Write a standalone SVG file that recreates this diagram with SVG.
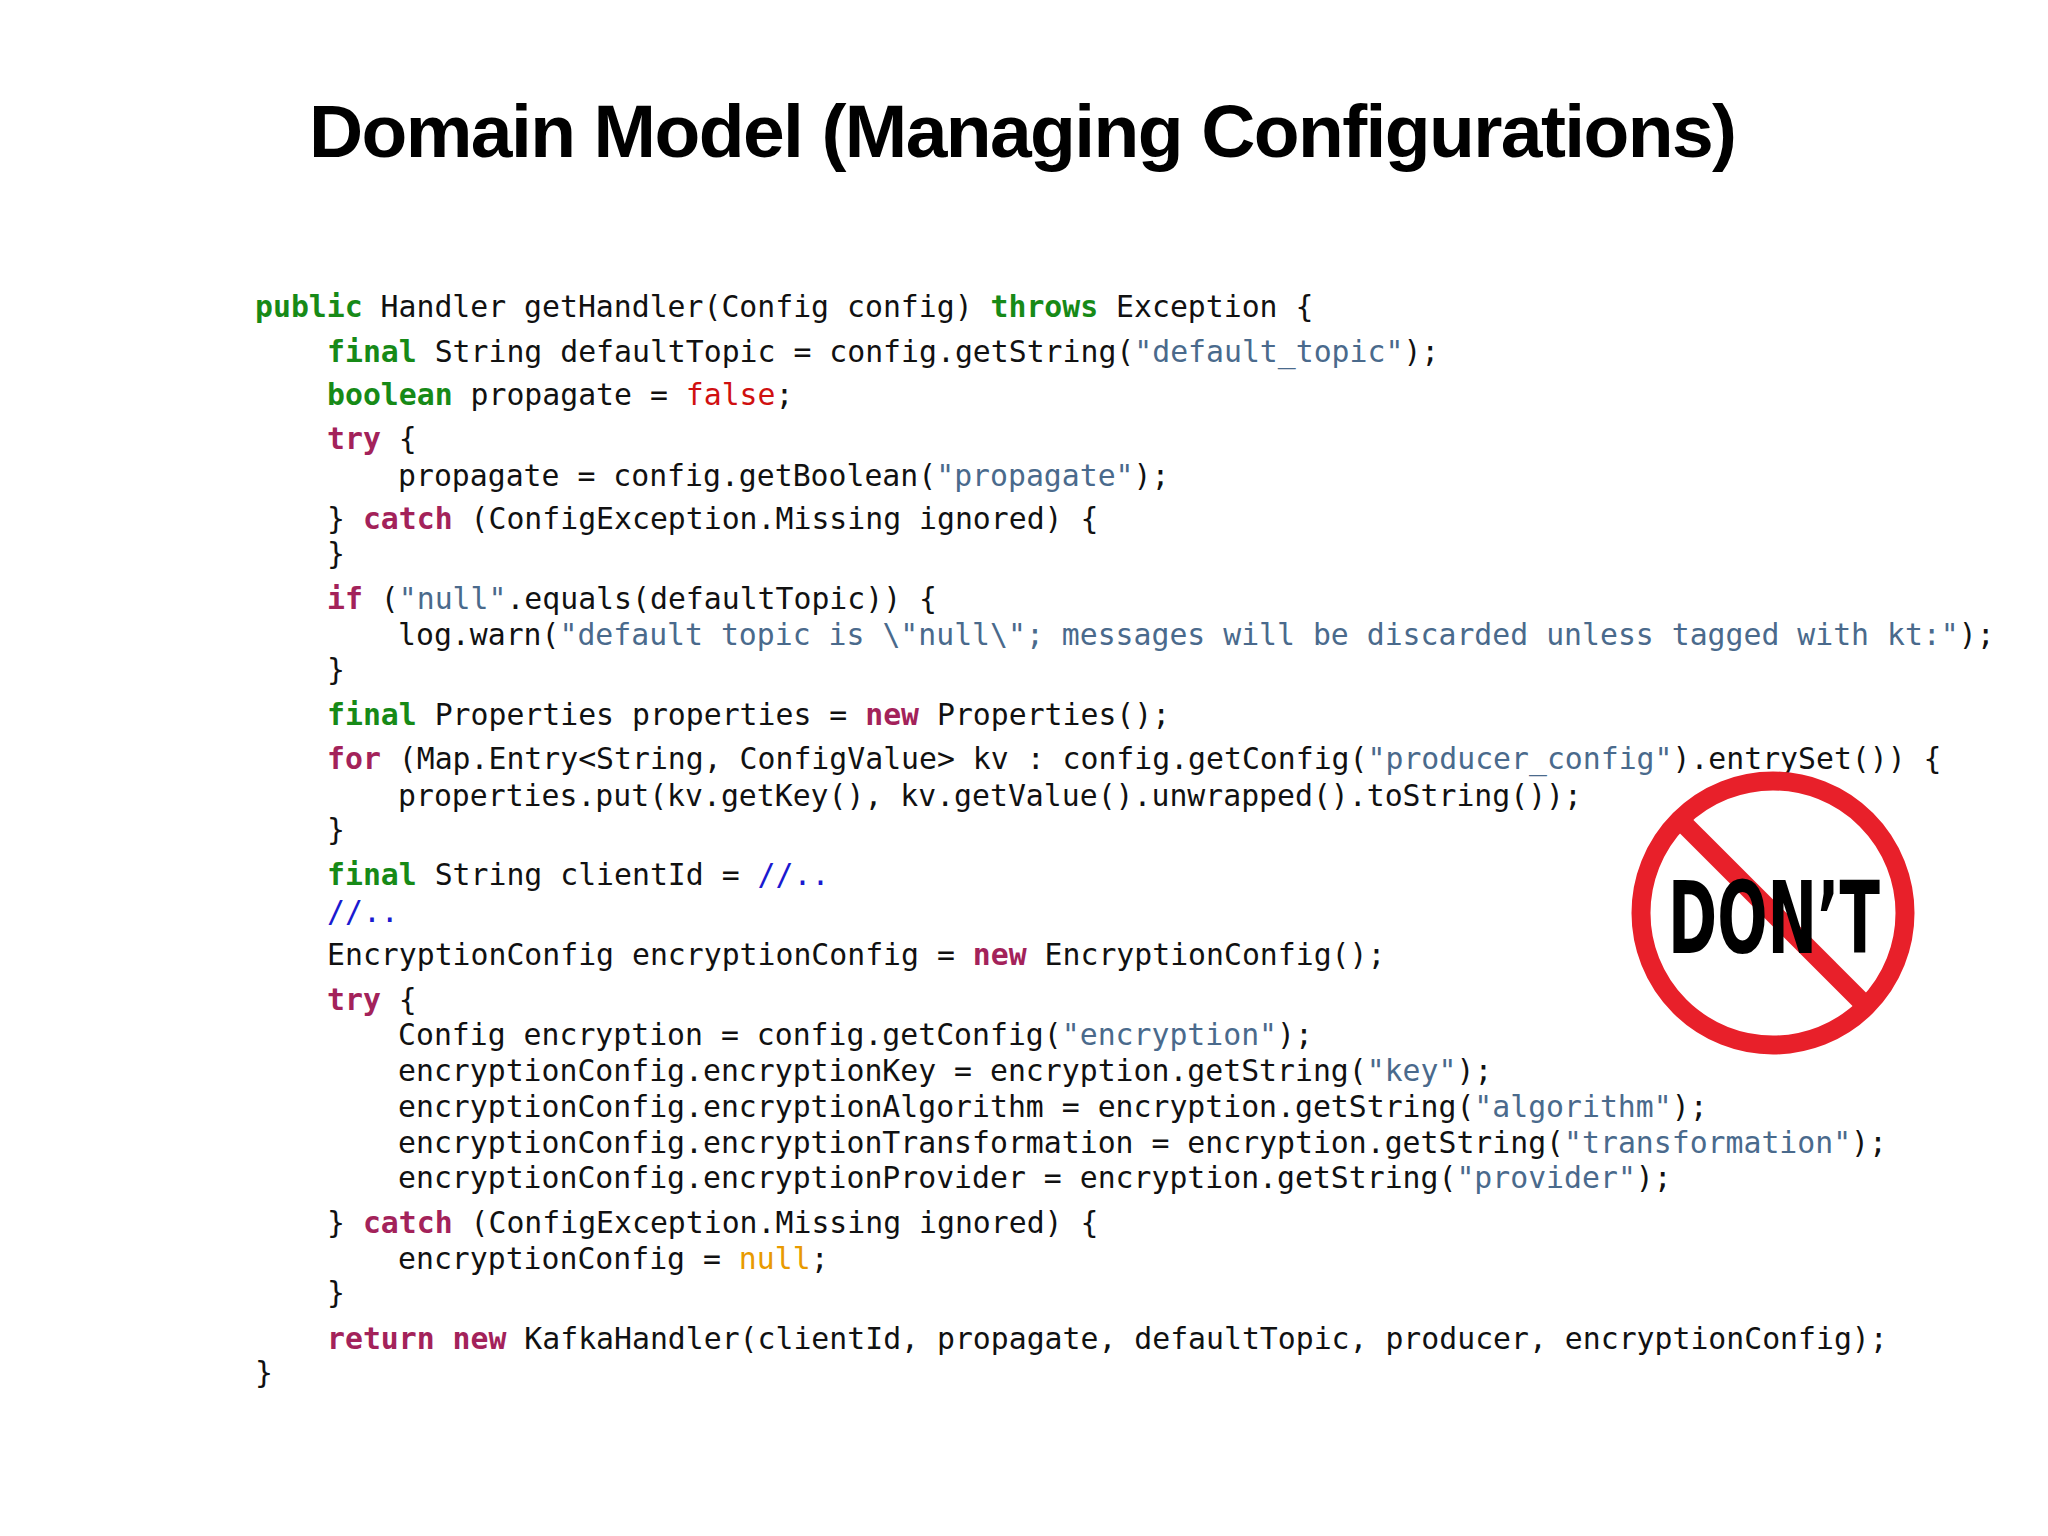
<svg xmlns="http://www.w3.org/2000/svg" width="2048" height="1536" viewBox="0 0 2048 1536">
<style>
.c{font-family:"DejaVu Sans Mono",monospace;font-size:29.8px;fill:#111;white-space:pre}
.k{fill:#178a17;font-weight:bold}
.p{fill:#a3225a;font-weight:bold}
.s{fill:#4a6a8c}
.f{fill:#d01010}
.n{fill:#e89a00}
.m{fill:#1a1ad0}
</style>
<rect width="2048" height="1536" fill="#fff"/>
<text x="1023" y="157" text-anchor="middle" font-family="Liberation Sans,Arial,sans-serif" font-weight="bold" font-size="75" textLength="1428" fill="#000">Domain Model (Managing Configurations)</text>
<g id="code" class="c">
<text x="255" y="317"><tspan class="k">public</tspan> Handler getHandler(Config config) <tspan class="k">throws</tspan> Exception {</text>
<text x="327" y="362"><tspan class="k">final</tspan> String defaultTopic = config.getString(<tspan class="s">"default_topic"</tspan>);</text>
<text x="327" y="405"><tspan class="k">boolean</tspan> propagate = <tspan class="f">false</tspan>;</text>
<text x="327" y="449"><tspan class="p">try</tspan> {</text>
<text x="398" y="486">propagate = config.getBoolean(<tspan class="s">"propagate"</tspan>);</text>
<text x="327" y="529">} <tspan class="p">catch</tspan> (ConfigException.Missing ignored) {</text>
<text x="327" y="564">}</text>
<text x="327" y="609"><tspan class="p">if</tspan> (<tspan class="s">"null"</tspan>.equals(defaultTopic)) {</text>
<text x="398" y="645">log.warn(<tspan class="s">"default topic is \"null\"; messages will be discarded unless tagged with kt:"</tspan>);</text>
<text x="327" y="680">}</text>
<text x="327" y="725"><tspan class="k">final</tspan> Properties properties = <tspan class="p">new</tspan> Properties();</text>
<text x="327" y="769"><tspan class="p">for</tspan> (Map.Entry&lt;String, ConfigValue&gt; kv : config.getConfig(<tspan class="s">"producer_config"</tspan>).entrySet()) {</text>
<text x="398" y="806">properties.put(kv.getKey(), kv.getValue().unwrapped().toString());</text>
<text x="327" y="840">}</text>
<text x="327" y="885"><tspan class="k">final</tspan> String clientId = <tspan class="m">//..</tspan></text>
<text x="327" y="922" class="m">//..</text>
<text x="327" y="965">EncryptionConfig encryptionConfig = <tspan class="p">new</tspan> EncryptionConfig();</text>
<text x="327" y="1010"><tspan class="p">try</tspan> {</text>
<text x="398" y="1045">Config encryption = config.getConfig(<tspan class="s">"encryption"</tspan>);</text>
<text x="398" y="1081">encryptionConfig.encryptionKey = encryption.getString(<tspan class="s">"key"</tspan>);</text>
<text x="398" y="1117">encryptionConfig.encryptionAlgorithm = encryption.getString(<tspan class="s">"algorithm"</tspan>);</text>
<text x="398" y="1153">encryptionConfig.encryptionTransformation = encryption.getString(<tspan class="s">"transformation"</tspan>);</text>
<text x="398" y="1188">encryptionConfig.encryptionProvider = encryption.getString(<tspan class="s">"provider"</tspan>);</text>
<text x="327" y="1233">} <tspan class="p">catch</tspan> (ConfigException.Missing ignored) {</text>
<text x="398" y="1269">encryptionConfig = <tspan class="n">null</tspan>;</text>
<text x="327" y="1303">}</text>
<text x="327" y="1349"><tspan class="p">return new</tspan> KafkaHandler(clientId, propagate, defaultTopic, producer, encryptionConfig);</text>
<text x="255" y="1383">}</text>
</g>
<g id="dont">
<circle cx="1773" cy="913" r="132" fill="#fff" stroke="#e8202a" stroke-width="19"/>
<line x1="1686" y1="826" x2="1860" y2="1000" stroke="#e8202a" stroke-width="19"/>
<text x="1668" y="953" font-family="DejaVu Sans Condensed,Liberation Sans,sans-serif" font-weight="bold" font-size="100" textLength="212" lengthAdjust="spacingAndGlyphs" fill="#000">DON’T</text>
</g>
</svg>
